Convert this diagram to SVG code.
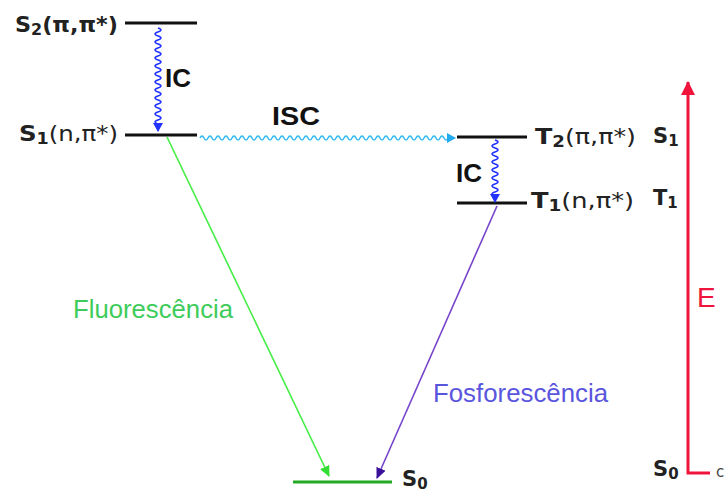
<svg xmlns="http://www.w3.org/2000/svg" width="726" height="494" viewBox="0 0 726 494">
<style>
.lvl{stroke:#111;stroke-width:3;fill:none}
.lab{font-family:"DejaVu Sans",Verdana,sans-serif;font-size:21px;fill:#222}
.b{font-weight:bold}
.sub{font-size:15px;font-weight:bold}
.ic{font-family:"Liberation Sans",Arial,sans-serif;font-weight:bold;font-size:26px;fill:#111}
.wv{fill:none;stroke-width:1.6}
</style>
<defs>
<marker id="aBlue" markerWidth="10" markerHeight="10" refX="8" refY="5" orient="auto" markerUnits="userSpaceOnUse"><path d="M0,0 L9,5 L0,10 z" fill="#2233ff"/></marker>
<marker id="aCyan" markerWidth="10" markerHeight="10" refX="8" refY="5" orient="auto" markerUnits="userSpaceOnUse"><path d="M0,0 L9,5 L0,10 z" fill="#22aaee"/></marker>
<marker id="aGreen" markerWidth="12" markerHeight="12" refX="10" refY="6" orient="auto" markerUnits="userSpaceOnUse"><path d="M0,1 L11,6 L0,11 z" fill="#33dd33"/></marker>
<marker id="aPurple" markerWidth="12" markerHeight="12" refX="10" refY="6" orient="auto" markerUnits="userSpaceOnUse"><path d="M0,1 L11,6 L0,11 z" fill="#3a109a"/></marker>
<marker id="aRed" markerWidth="16" markerHeight="18" refX="13" refY="8" orient="auto" markerUnits="userSpaceOnUse"><path d="M0,1 L14,8 L0,15 z" fill="#f0143c"/></marker>
</defs>

<g id="S2">
<line class="lvl" x1="125" y1="23" x2="197" y2="23"/>
<text class="lab b" x="15" y="32" textLength="103" lengthAdjust="spacingAndGlyphs">S<tspan class="sub" dy="3">2</tspan><tspan dy="-3">(π,π*)</tspan></text>
</g>
<g id="S1">
<line class="lvl" x1="125" y1="135" x2="197" y2="135"/>
<text class="lab" x="19" y="141" textLength="99" lengthAdjust="spacingAndGlyphs"><tspan class="b">S</tspan><tspan class="sub" dy="3">1</tspan><tspan dy="-3">(n,π*)</tspan></text>
</g>
<g id="T2">
<line class="lvl" x1="457" y1="137" x2="527" y2="137"/>
<text class="lab" x="535" y="144" textLength="101" lengthAdjust="spacingAndGlyphs"><tspan class="b">T</tspan><tspan class="sub" dy="3">2</tspan><tspan dy="-3">(π,π*)</tspan></text>
</g>
<g id="T1">
<line class="lvl" x1="457" y1="203" x2="527" y2="203"/>
<text class="lab" x="531" y="208" textLength="103" lengthAdjust="spacingAndGlyphs"><tspan class="b">T</tspan><tspan class="sub" dy="3">1</tspan><tspan dy="-3">(n,π*)</tspan></text>
</g>
<g id="S0">
<line x1="293" y1="482" x2="392" y2="482" stroke="#22aa22" stroke-width="3"/>
<text class="lab b" x="402" y="486">S<tspan class="sub" dy="3">0</tspan></text>
</g>

<g id="connectors">
<path class="wv" stroke="#2233ff" marker-end="url(#aBlue)" d="M158,28 q6,2 0,4 t0,4 t0,4 t0,4 t0,4 t0,4 t0,4 t0,4 t0,4 t0,4 t0,4 t0,4 t0,4 t0,4 t0,4 t0,4 t0,4 t0,4 t0,4 t0,4 t0,4 t0,4 t0,4 t0,4 l0,7"/>
<path class="wv" stroke="#33bbee" marker-end="url(#aCyan)" d="M200,138 q2,-4 4,0 t4,0 t4,0 t4,0 t4,0 t4,0 t4,0 t4,0 t4,0 t4,0 t4,0 t4,0 t4,0 t4,0 t4,0 t4,0 t4,0 t4,0 t4,0 t4,0 t4,0 t4,0 t4,0 t4,0 t4,0 t4,0 t4,0 t4,0 t4,0 t4,0 t4,0 t4,0 t4,0 t4,0 t4,0 t4,0 t4,0 t4,0 t4,0 t4,0 t4,0 t4,0 t4,0 t4,0 t4,0 t4,0 t4,0 t4,0 t4,0 t4,0 t4,0 t4,0 t4,0 t4,0 t4,0 t4,0 t4,0 t4,0 t4,0 t4,0 t4,0 t4,0 l7,0"/>
<path class="wv" stroke="#2233ff" marker-end="url(#aBlue)" d="M495,140 q6,2 0,4 t0,4 t0,4 t0,4 t0,4 t0,4 t0,4 t0,4 t0,4 t0,4 t0,4 t0,4 t0,4 t0,4 l0,6"/>
<line x1="167" y1="137" x2="329" y2="476" stroke="#44ee44" stroke-width="1.6" marker-end="url(#aGreen)"/>
<line x1="497" y1="206" x2="377" y2="478" stroke="#7744cc" stroke-width="1.6" marker-end="url(#aPurple)"/>
</g>

<g id="labels">
<text class="ic" x="165" y="87">IC</text>
<text class="ic" x="272" y="125" textLength="48" lengthAdjust="spacingAndGlyphs">ISC</text>
<text class="ic" x="456" y="182">IC</text>
<text x="73" y="318" font-family="Liberation Sans,Arial,sans-serif" font-size="26" fill="#3dcc5a" textLength="160" lengthAdjust="spacingAndGlyphs">Fluorescência</text>
<text x="433" y="402" font-family="Liberation Sans,Arial,sans-serif" font-size="26" fill="#5a55dd" textLength="175" lengthAdjust="spacingAndGlyphs">Fosforescência</text>
</g>

<g id="energy-axis">
<path d="M710,473 L688,473 L688,82" fill="none" stroke="#f0143c" stroke-width="3" marker-end="url(#aRed)"/>
<text x="697" y="307" font-family="Liberation Sans,Arial,sans-serif" font-size="28" fill="#f0143c">E</text>
<text class="lab" x="653" y="143"><tspan class="b">S</tspan><tspan class="sub" dy="3">1</tspan></text>
<text class="lab" x="653" y="205"><tspan class="b">T</tspan><tspan class="sub" dy="3">1</tspan></text>
<text class="lab" x="653" y="476"><tspan class="b">S</tspan><tspan class="sub" dy="3">0</tspan></text>
<text x="716" y="477" font-family="DejaVu Sans,Verdana,sans-serif" font-size="15" fill="#444">c</text>
</g>
</svg>
